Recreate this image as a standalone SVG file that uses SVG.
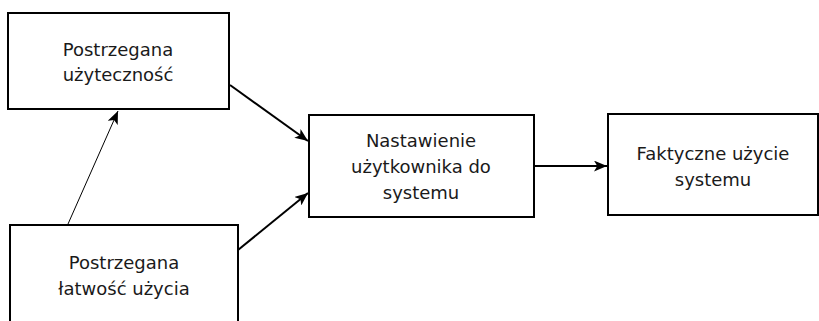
<svg xmlns="http://www.w3.org/2000/svg" width="819" height="321" viewBox="0 0 819 321">
<style>
.box{fill:#fff;stroke:#000;stroke-width:2}
.t{font-family:"DejaVu Sans",Verdana,sans-serif;font-size:18px;fill:#1a1a1a;text-anchor:middle}
.c{stroke:#000;stroke-width:2;fill:none;marker-end:url(#ah)}
.c1{stroke:#000;stroke-width:1;fill:none;marker-end:url(#ah2)}
</style>
<defs>
<marker id="ah" viewBox="0 0 12 10" refX="12" refY="5" markerWidth="6.5" markerHeight="5.5" orient="auto" markerUnits="strokeWidth">
<path d="M0,0 L12,5 L0,10 L3,5 Z" fill="#000"/>
</marker>
<marker id="ah2" viewBox="0 0 12 10" refX="12" refY="5" markerWidth="13" markerHeight="11" orient="auto" markerUnits="strokeWidth">
<path d="M0,0 L12,5 L0,10 L3,5 Z" fill="#000"/>
</marker>
</defs>
<rect width="819" height="321" fill="#fff"/>
<g id="connectors">
<line class="c" x1="230" y1="85" x2="308" y2="141"/>
<line class="c" x1="238" y1="250" x2="308" y2="193"/>
<line class="c" x1="535" y1="166" x2="607" y2="166"/>
<line class="c1" x1="68" y1="224" x2="118" y2="111"/>
</g>
<g id="n1">
<rect class="box" x="8" y="13" width="221" height="96"/>
<text class="t" x="118" y="56">Postrzegana</text>
<text class="t" x="118" y="81">użyteczność</text>
</g>
<g id="n2">
<rect class="box" x="10" y="225" width="228" height="110"/>
<text class="t" x="124" y="269">Postrzegana</text>
<text class="t" x="124" y="295">łatwość użycia</text>
</g>
<g id="n3">
<rect class="box" x="309" y="115" width="225" height="102"/>
<text class="t" x="421" y="147">Nastawienie</text>
<text class="t" x="421" y="173">użytkownika do</text>
<text class="t" x="421" y="199">systemu</text>
</g>
<g id="n4">
<rect class="box" x="608" y="114" width="210" height="101"/>
<text class="t" x="713" y="160">Faktyczne użycie</text>
<text class="t" x="713" y="186">systemu</text>
</g>
</svg>
